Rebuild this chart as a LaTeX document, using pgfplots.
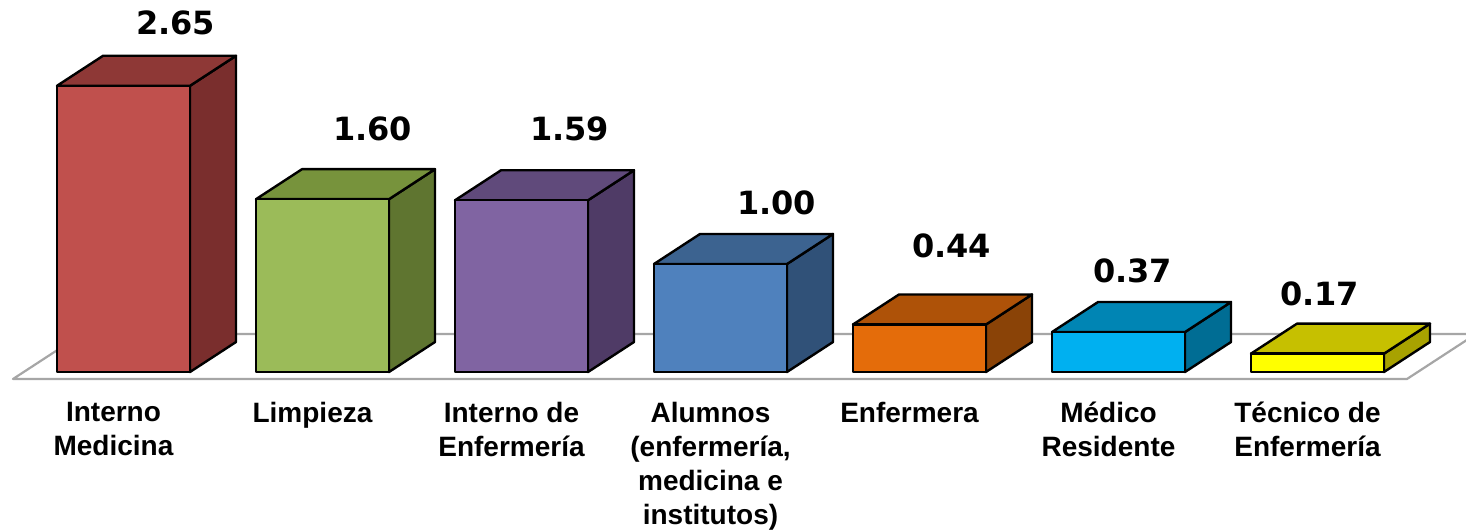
\documentclass[border=0pt]{standalone}
\usepackage{pgfplots}
\pgfplotsset{compat=1.18}
\usepackage{fontspec}
\setmainfont{Liberation Sans}
\newfontfamily\valfont{DejaVu Sans}

\definecolor{f1}{HTML}{C0504D}\definecolor{t1}{HTML}{8E3836}\definecolor{s1}{HTML}{7A2E2D}
\definecolor{f2}{HTML}{9BBB59}\definecolor{t2}{HTML}{77933C}\definecolor{s2}{HTML}{5F7530}
\definecolor{f3}{HTML}{8064A2}\definecolor{t3}{HTML}{604A7B}\definecolor{s3}{HTML}{4F3B66}
\definecolor{f4}{HTML}{4F81BD}\definecolor{t4}{HTML}{3C6390}\definecolor{s4}{HTML}{305178}
\definecolor{f5}{HTML}{E46C0A}\definecolor{t5}{HTML}{AE5208}\definecolor{s5}{HTML}{8A4307}
\definecolor{f6}{HTML}{00B0F0}\definecolor{t6}{HTML}{0085B4}\definecolor{s6}{HTML}{006D94}
\definecolor{f7}{HTML}{FFFF00}\definecolor{t7}{HTML}{C6C000}\definecolor{s7}{HTML}{A8A200}
\definecolor{floorline}{HTML}{A6A6A6}

% half bar width, depth in x and y (axis units)
\def\hw{0.3342}
\def\dxx{0.2312}
\def\dyy{0.2778}

% #1 index, #2 value, #3 colour number, #4 label xshift, #5 label yshift
\newcommand{\threedbar}[5]{%
  \pgfmathsetmacro{\xl}{#1-\hw}%
  \pgfmathsetmacro{\xr}{#1+\hw}%
  \pgfmathsetmacro{\xbl}{#1-\hw+\dxx}%
  \pgfmathsetmacro{\xbr}{#1+\hw+\dxx}%
  \pgfmathsetmacro{\vt}{#2+\dyy}%
  \edef\tmp{\noexpand\addplot[fill=s#3, draw=black, line width=1.2bp, line join=round]
     coordinates {(\xr,0) (\xbr,\dyy) (\xbr,\vt) (\xr,#2)} -- cycle;}\tmp
  \edef\tmp{\noexpand\addplot[fill=t#3, draw=black, line width=1.2bp, line join=round]
     coordinates {(\xl,#2) (\xr,#2) (\xbr,\vt) (\xbl,\vt)} -- cycle;}\tmp
  \addplot[ybar, bar width=0.6684, bar shift=0pt, fill=f#3, draw=black,
     line width=1.2bp, line join=round,
     point meta=explicit symbolic, nodes near coords,
     nodes near coords style={font=\valfont\bfseries\fontsize{16bp}{18bp}\selectfont,
       text=black, anchor=base, inner sep=0pt, xshift=#4, yshift=#5}]
     coordinates {(#1,#2) [#2]};
}

\begin{document}
\begin{tikzpicture}
\begin{axis}[
  at={(0,66bp)}, anchor=south west,
  scale only axis, width=733bp, height=200bp,
  xmin=-0.6206, xmax=6.7462,
  ymin=-0.2593, ymax=3.4444,
  clip=false,
  axis line style={draw=none},
  major tick length=0pt,
  ytick=\empty,
  xtick={0,1,2,3,4,5,6},
  xticklabels={{Interno\\Medicina},{Limpieza},{Interno de\\Enfermería},{Alumnos\\(enfermería,\\medicina e\\institutos)},{Enfermera},{Médico\\Residente},{Técnico de\\Enfermería}},
  xticklabel style={font=\bfseries\fontsize{14bp}{17bp}\selectfont, align=center,
    anchor=north, inner sep=0pt, xshift=-5bp, yshift=-1bp},
]
% floor
\addplot[fill=white, draw=floorline, line width=1.1bp, line join=round]
  coordinates {(-0.5553,-0.0648) (6.4497,-0.0648) (6.7965,0.3519) (-0.2085,0.3519)} -- cycle;

\threedbar{0}{2.65}{1}{26bp}{25.5bp}
\threedbar{1}{1.60}{2}{25bp}{29.5bp}
\threedbar{2}{1.59}{3}{24bp}{30bp}
\threedbar{3}{1.00}{4}{28bp}{24.5bp}
\threedbar{4}{0.44}{5}{16bp}{33.5bp}
\threedbar{5}{0.37}{6}{7bp}{25bp}
\threedbar{6}{0.17}{7}{1bp}{24.3bp}
\end{axis}
\pgfresetboundingbox
\useasboundingbox (0,0) rectangle (733bp,266bp);
\end{tikzpicture}
\end{document}
